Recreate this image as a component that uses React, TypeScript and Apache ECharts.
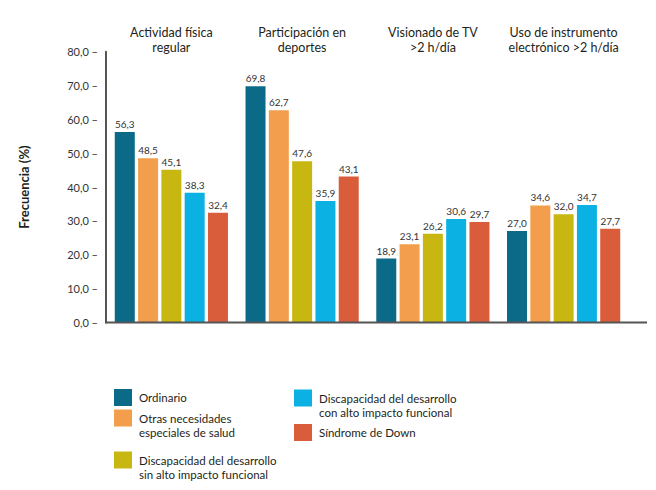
import React, { useEffect, useRef } from "react";
import * as echarts from "echarts";

const categories = [
  "Actividad física\nregular",
  "Participación en\ndeportes",
  "Visionado de TV\n>2 h/día",
  "Uso de instrumento\nelectrónico >2 h/día",
];

const seriesNames = [
  "Ordinario",
  "Otras necesidades\nespeciales de salud",
  "Discapacidad del desarrollo\nsin alto impacto funcional",
  "Discapacidad del desarrollo\ncon alto impacto funcional",
  "Síndrome de Down",
];

const ordinario = [56.3, 69.8, 18.9, 27.0];
const otras = [48.5, 62.7, 23.1, 34.6];
const discSin = [45.1, 47.6, 26.2, 32.0];
const discCon = [38.3, 35.9, 30.6, 34.7];
const down = [32.4, 43.1, 29.7, 27.7];

const seriesValues = [ordinario, otras, discSin, discCon, down];
const colors = ["#0a6a88", "#f29e4c", "#c8b710", "#0cb1e3", "#d95c3b"];

const yTicks = { min: 0, max: 80, interval: 10 };

const FONT = "Lato, 'Noto Sans', sans-serif";

const fmt = (v: number) => v.toFixed(1).replace(".", ",");

export default function App() {
  const ref = useRef<HTMLDivElement>(null);
  useEffect(() => {
    if (!ref.current) return;
    const chart = echarts.init(ref.current, null, { renderer: "svg" });
    const gridLeft = 106;
    const gridTop = 51.7;
    const gridBottom = 167.5;

    const legendPos = [
      { left: 114, top: 389, multi: false },
      { left: 114, top: 397, multi: true },
      { left: 114, top: 439, multi: true },
      { left: 294, top: 377, multi: true },
      { left: 294, top: 424, multi: false },
    ];

    chart.setOption({
      animation: false,
      textStyle: { fontFamily: FONT },
      grid: { left: gridLeft, right: 27, top: gridTop, bottom: gridBottom },
      legend: seriesNames.map((n, i) => ({
        data: [n],
        left: legendPos[i].left,
        top: legendPos[i].top,
        padding: 0,
        icon: "rect",
        itemWidth: 18,
        itemHeight: 17,
        selectedMode: false,
        formatter: (name: string) => (legendPos[i].multi ? " \n" + name : name),
        textStyle: {
          fontFamily: FONT,
          fontSize: 11.5,
          lineHeight: 14,
          color: "#231f20",
          padding: [0, 0, 0, 2],
        },
      })),
      xAxis: [
        {
          type: "category",
          data: categories,
          position: "bottom",
          axisLine: { show: false },
          axisTick: { show: false },
          axisLabel: { show: false },
        },
        {
          type: "category",
          data: categories,
          position: "top",
          axisLine: { show: false },
          axisTick: { show: false },
          axisLabel: {
            interval: 0,
            fontFamily: FONT,
            fontSize: 12.5,
            lineHeight: 15,
            color: "#231f20",
            margin: -3,
          },
        },
      ],
      yAxis: {
        type: "value",
        min: yTicks.min,
        max: yTicks.max,
        interval: yTicks.interval,
        name: "Frecuencia (%)",
        nameLocation: "middle",
        nameRotate: 90,
        nameGap: 76,
        nameTextStyle: {
          fontFamily: FONT,
          fontSize: 13,
          fontWeight: "bold",
          color: "#231f20",
        },
        axisLine: { show: true, lineStyle: { color: "#555", width: 2 } },
        axisTick: { show: false },
        splitLine: { show: false },
        axisLabel: {
          formatter: (v: number) => fmt(v) + " –",
          fontFamily: FONT,
          fontSize: 11,
          color: "#333",
          margin: 8,
        },
      },
      graphic: [
        {
          type: "line",
          shape: { x1: 105, y1: 490 - gridBottom, x2: 647, y2: 490 - gridBottom },
          style: { stroke: "#555", lineWidth: 2 },
          z: 10,
        },
      ],
      series: seriesNames.map((n, i) => ({
        type: "bar",
        name: n,
        data: seriesValues[i],
        barWidth: 20,
        barGap: "16.5%",
        itemStyle: { color: colors[i] },
        label: {
          show: true,
          position: "top",
          distance: 3,
          fontFamily: FONT,
          fontSize: 10,
          color: "#333",
          formatter: (p: any) => fmt(p.value),
        },
      })),
    });
    return () => chart.dispose();
  }, []);
  return (
    <div
      ref={ref}
      style={{ position: "fixed", left: 0, top: 0, width: 656, height: 490, background: "#fff" }}
    />
  );
}
